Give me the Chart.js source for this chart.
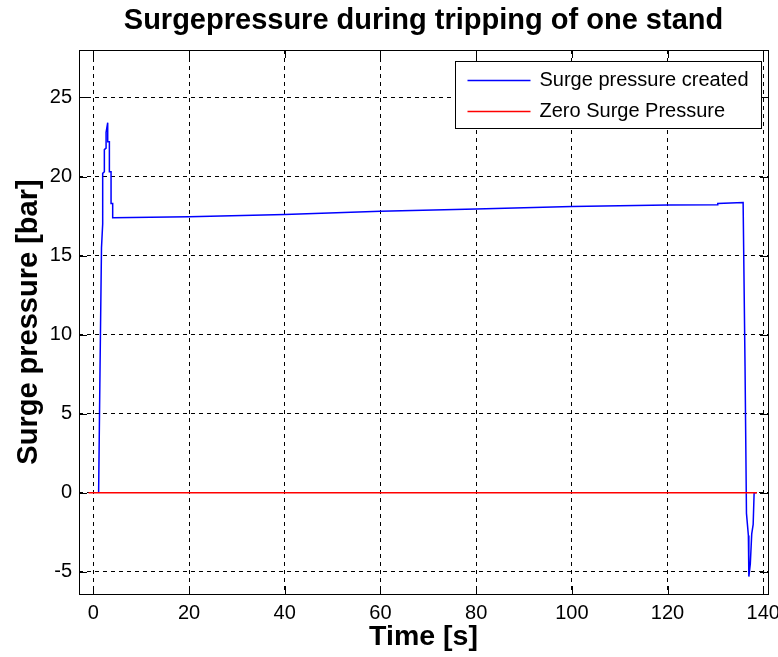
<!DOCTYPE html>
<html>
<head>
<meta charset="utf-8">
<script src="https://cdn.jsdelivr.net/npm/chart.js@4/dist/chart.umd.min.js"></script>
<style>
  html, body { margin: 0; padding: 0; background: #fff; }
  #wrap { width: 778px; height: 657px; }
</style>
</head>
<body>
<div id="wrap"><canvas id="surge"></canvas></div>
<script>
const titleText = 'Surgepressure during tripping of one stand';
const xLabel = 'Time [s]';
const yLabel = 'Surge pressure [bar]';

// blue trace
const surgeTime = [1.1, 1.4, 1.7, 1.95, 1.95, 2.3, 2.3, 2.66, 2.66, 3.0, 3.0, 3.35, 3.35, 3.7, 3.7, 4.04, 4.04,
  20, 40, 60, 80, 100, 120, 130.5, 130.5, 135.8,
  136.2, 136.5, 136.9, 137.0, 137.3, 137.6, 137.9, 138.1, 138.6];
const surgeBar = [0, 8, 15.5, 17, 20.2, 20.3, 21.7, 21.8, 22.8, 23.4, 22.2, 22.2, 20.3, 20.3, 18.3, 18.3, 17.4,
  17.45, 17.6, 17.8, 17.95, 18.1, 18.2, 18.22, 18.3, 18.35,
  8, -1.3, -2.7, -5.3, -4.5, -2.6, -2.0, 0, 0];

const zeroTime = [-1, 138.7];
const zeroBar = [0, 0];

const xTicks = [0, 20, 40, 60, 80, 100, 120, 140];
const yTicks = [-5, 0, 5, 10, 15, 20, 25];

const font = 'Liberation Sans, Arial, sans-serif';

const toPoints = (xs, ys) => xs.map((x, i) => ({ x: x, y: ys[i] }));

// title, box, inward ticks and the boxed legend (matlab look)
const matlabLook = {
  id: 'matlabLook',
  afterDraw(chart) {
    const ctx = chart.ctx;
    const a = chart.chartArea;
    const xs = chart.scales.x, ys = chart.scales.y;
    ctx.save();

    ctx.strokeStyle = '#000';
    ctx.lineWidth = 1;
    ctx.setLineDash([]);
    ctx.beginPath();
    xTicks.forEach(t => {
      const px = Math.round(xs.getPixelForValue(t)) + 0.5;
      ctx.moveTo(px, a.bottom); ctx.lineTo(px, a.bottom - 8);
      ctx.moveTo(px, a.top); ctx.lineTo(px, a.top + 8);
    });
    yTicks.forEach(t => {
      const py = Math.round(ys.getPixelForValue(t)) + 0.5;
      ctx.moveTo(a.left, py); ctx.lineTo(a.left + 8, py);
      ctx.moveTo(a.right, py); ctx.lineTo(a.right - 8, py);
    });
    ctx.stroke();
    ctx.strokeRect(Math.round(a.left) + 0.5, Math.round(a.top) + 0.5,
      Math.round(a.right - a.left), Math.round(a.bottom - a.top));

    // title
    ctx.fillStyle = '#000';
    ctx.font = 'bold 29px ' + font;
    ctx.textAlign = 'center';
    ctx.textBaseline = 'middle';
    ctx.fillText(titleText, (a.left + a.right) / 2, 21);

    // legend
    ctx.font = '20px ' + font;
    const sets = chart.data.datasets;
    const textW = Math.max(...sets.map(d => ctx.measureText(d.label).width));
    const w = 12 + 63 + 9 + textW + 13;
    const h = 67;
    const lx = Math.round(a.right - 7 - w) + 0.5;
    const ly = Math.round(a.top + 11) + 0.5;
    ctx.fillStyle = '#fff';
    ctx.fillRect(lx, ly, w, h);
    ctx.strokeStyle = '#000';
    ctx.strokeRect(lx, ly, w, h);
    ctx.textAlign = 'left';
    sets.forEach((d, i) => {
      const cy = ly + 19 + i * 31;
      ctx.strokeStyle = d.borderColor;
      ctx.lineWidth = 1.5;
      ctx.beginPath();
      ctx.moveTo(lx + 12, cy); ctx.lineTo(lx + 75, cy);
      ctx.stroke();
      ctx.fillStyle = '#000';
      ctx.fillText(d.label, lx + 84, cy);
    });
    ctx.restore();
  }
};

new Chart(document.getElementById('surge'), {
  type: 'line',
  data: {
    datasets: [
      {
        label: 'Surge pressure created',
        data: toPoints(surgeTime, surgeBar),
        borderColor: '#0000ff',
        borderWidth: 1.5,
        pointRadius: 0,
        tension: 0,
        order: 2,
      },
      {
        label: 'Zero Surge Pressure',
        data: toPoints(zeroTime, zeroBar),
        borderColor: '#ff0000',
        borderWidth: 1.5,
        pointRadius: 0,
        tension: 0,
        order: 1,
      },
    ]
  },
  options: {
    responsive: true,
    maintainAspectRatio: false,
    animation: false,
    layout: { padding: { top: 50, right: 10, left: 0, bottom: 0 } },
    plugins: { legend: { display: false }, tooltip: { enabled: false } },
    scales: {
      x: {
        type: 'linear',
        min: -3, max: 141,
        bounds: 'data',
        afterBuildTicks: s => { s.ticks = xTicks.map(v => ({ value: v })); },
        afterFit: s => { s.height = 63; s.paddingLeft = 0; s.paddingRight = 0; },
        ticks: { padding: 7, color: '#000', font: { family: font, size: 20 } },
        grid: { color: '#000', lineWidth: 1, drawTicks: false },
        border: { display: false, dash: [4, 4] },
        title: { display: true, text: xLabel, color: '#000', font: { family: font, size: 28.5, weight: 'bold' }, padding: { top: 0, bottom: 3 } },
      },
      y: {
        min: -6.4, max: 28,
        bounds: 'data',
        afterBuildTicks: s => { s.ticks = yTicks.map(v => ({ value: v })); },
        afterFit: s => { s.width = 79; },
        ticks: { padding: 7, color: '#000', font: { family: font, size: 20 } },
        grid: { color: '#000', lineWidth: 1, drawTicks: false },
        border: { display: false, dash: [4, 4] },
        title: { display: true, text: yLabel, color: '#000', font: { family: font, size: 29, weight: 'bold' }, padding: { top: 12, bottom: 0 } },
      }
    }
  },
  plugins: [matlabLook]
});
</script>
</body>
</html>
